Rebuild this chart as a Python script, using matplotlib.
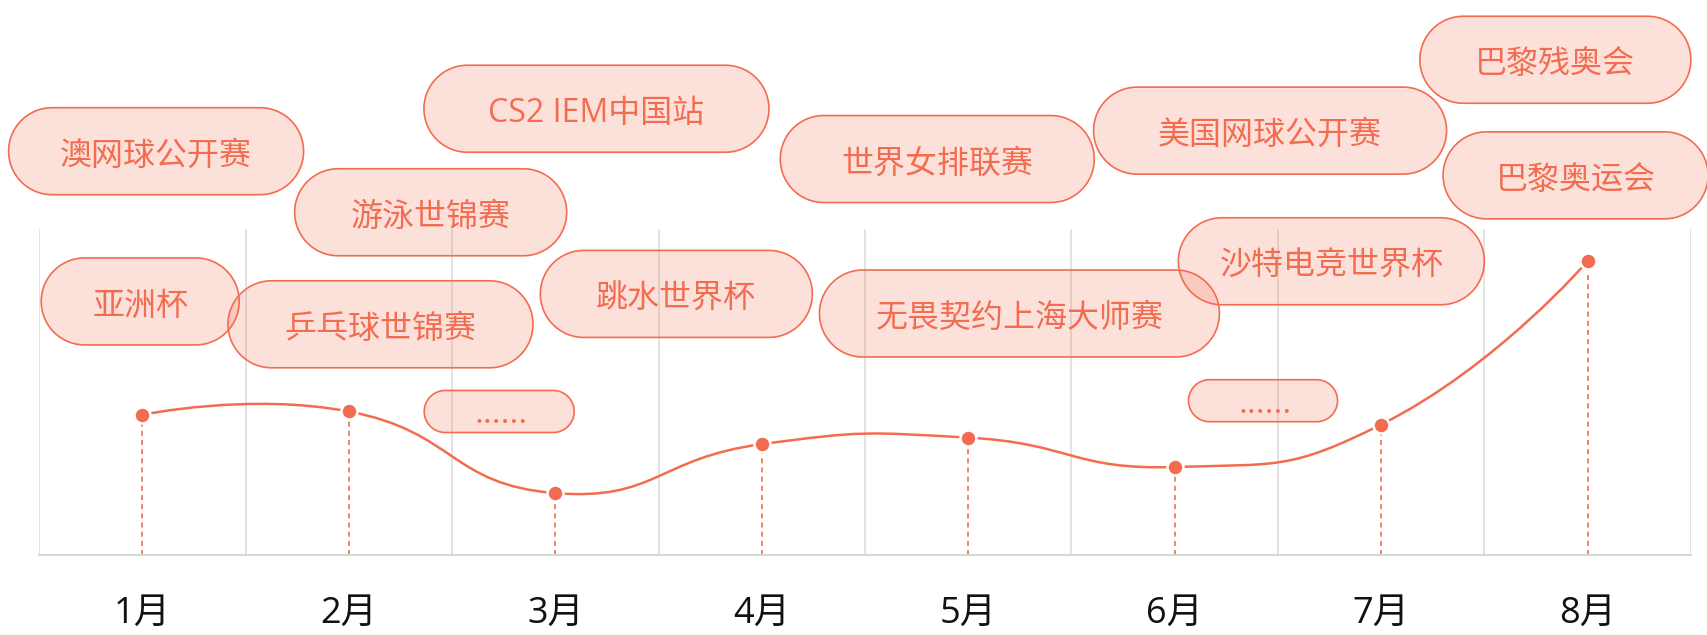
import numpy as np
import matplotlib
matplotlib.use('Agg')
import matplotlib.pyplot as plt
from matplotlib.path import Path
from matplotlib.patches import PathPatch, Polygon
from matplotlib.transforms import IdentityTransform

# Latin glyphs from Open Sans, CJK falls through to Noto
plt.rcParams['font.family'] = ['Open Sans', 'Noto Sans CJK SC', 'DejaVu Sans']

# ── DATA ──────────────────────────────────────────────────────────────────────
months = ['1月', '2月', '3月', '4月', '5月', '6月', '7月', '8月']
values = [43, 44, 19, 34, 36, 27, 40, 90]

# events shown as bubbles
event_names = ['澳网球公开赛', '亚洲杯', '游泳世锦赛', '乒乓球世锦赛', 'CS2 IEM中国站',
               '跳水世界杯', '......', '世界女排联赛', '无畏契约上海大师赛', '美国网球公开赛',
               '巴黎残奥会', '巴黎奥运会', '沙特电竞世界杯', '......']

# ── LAYOUT (bubble centre in month index / value units, width in pixels) ─────
event_x = [0.066, -0.011, 1.396, 1.153, 2.199, 2.586, 1.728, 3.850, 4.248, 5.462,
           6.844, 6.942, 5.759, 5.428]
event_y = [123.7, 77.7, 105.0, 70.7, 136.7, 80.0, 44.0, 121.3, 74.0, 130.0,
           151.7, 116.3, 90.0, 47.3]
event_w = [295, 198, 272, 305, 345, 272, 150, 314, 400, 353, 271, 265, 306, 149]

# ── STYLE ─────────────────────────────────────────────────────────────────────
MAIN = '#F36C4F'
FILL = (243 / 255, 108 / 255, 79 / 255, 0.2)
GRID = '#DEDEDE'
BIG_H, SMALL_H = 87, 42
SMOOTH = 0.5


def smooth_path(xs, ys, sx, sy, smooth=SMOOTH):
    # echarts-like bezier smoothing, computed in pixel space
    p = np.column_stack([np.asarray(xs, float) * sx, np.asarray(ys, float) * sy])
    n = len(p)
    cps = []
    for i in range(n):
        if i == 0 or i == n - 1:
            cps.append((p[i], p[i]))
            continue
        v = p[i + 1] - p[i - 1]
        d0 = np.hypot(*(p[i] - p[i - 1]))
        d1 = np.hypot(*(p[i + 1] - p[i]))
        r = d0 / (d0 + d1)
        cps.append((p[i] - v * smooth * r, p[i] + v * smooth * (1 - r)))
    verts = [p[0]]
    codes = [Path.MOVETO]
    for i in range(n - 1):
        verts += [cps[i][1], cps[i + 1][0], p[i + 1]]
        codes += [Path.CURVE4] * 3
    verts = np.array(verts) / [sx, sy]
    return Path(verts, codes)


def capsule(cx, cy, w, h):
    # pill outline in pixel coords
    r = h / 2
    t = np.linspace(-np.pi / 2, np.pi / 2, 60)
    right = np.column_stack([cx + w / 2 - r + r * np.cos(t), cy + r * np.sin(t)])
    left = np.column_stack([cx - w / 2 + r - r * np.cos(t), cy - r * np.sin(t)])
    return np.vstack([right, left])


fig = plt.figure(figsize=(17.07, 6.35), dpi=100)
ax = fig.add_axes([0.023, 0.1257, 0.9675, 0.5143])
ax.set_xlim(-0.5, len(months) - 0.5)
ax.set_ylim(0, 100)

for s in ['top', 'right', 'left']:
    ax.spines[s].set_visible(False)
ax.spines['bottom'].set_color('#D8D8D8')
ax.spines['bottom'].set_linewidth(1.5)
ax.set_yticks([])
ax.set_xticks(range(len(months)))
ax.set_xticklabels(months, fontsize=26, color='#111111')
ax.tick_params(axis='x', length=0, pad=29)

# category boundary grid lines
ax.vlines(np.arange(len(months) + 1) - 0.5, 0, 100, color=GRID, lw=1.2, zorder=1)

# dashed drop lines
x = np.arange(len(months))
ax.vlines(x, 0, values, color=MAIN, lw=1.2, linestyles=(0, (3, 2.5)), zorder=2)

# smooth line
bbox = ax.get_window_extent()
sx = bbox.width / len(months)
sy = bbox.height / 100
ax.add_patch(PathPatch(smooth_path(x, values, sx, sy), fill=False,
                       edgecolor=MAIN, lw=1.8, zorder=3))
ax.plot(x, values, 'o', ms=11.5, color=MAIN, mec='white', mew=1.8, zorder=4)

# bubbles
for name, ex, ey, w in zip(event_names, event_x, event_y, event_w):
    cx, cy = ax.transData.transform((ex, ey))
    if name.startswith('.'):
        h = SMALL_H
        tx, ty = ax.transData.inverted().transform((cx + 2, cy - 12))
        ax.text(tx, ty, name, fontsize=24, color=MAIN, ha='center', va='baseline',
                clip_on=False, zorder=6)
    else:
        h = BIG_H
        tx, ty = ax.transData.inverted().transform((cx, cy - 5))
        ax.text(tx, ty, name, fontsize=23, color=MAIN, ha='center', va='center',
                clip_on=False, zorder=6)
    ax.add_patch(Polygon(capsule(cx, cy, w, h), closed=True, facecolor=FILL,
                         edgecolor=MAIN, lw=1.2, transform=IdentityTransform(),
                         clip_on=False, zorder=5))

ax.set_xlim(-0.5, len(months) - 0.5)
ax.set_ylim(0, 100)
fig.savefig('out.png', dpi=100)
